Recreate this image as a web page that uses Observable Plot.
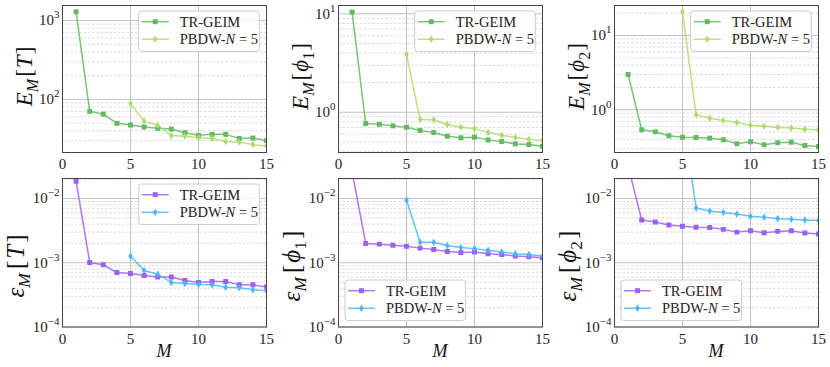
<!DOCTYPE html>
<html><head><meta charset="utf-8">
<script src="https://cdn.jsdelivr.net/npm/d3@7"></script>
<script src="https://cdn.jsdelivr.net/npm/@observablehq/plot@0.6"></script>
<style>
body{margin:0;background:#fff;}
#chart{position:relative;width:830px;height:367px;overflow:hidden;font-family:"Liberation Serif",serif;}
#chart svg{position:absolute;overflow:visible;}
</style></head><body><div id="chart"></div>
<script>
// ---- data ----
const M_TR = [1,2,3,4,5,6,7,8,9,10,11,12,13,14,15];
const M_PB = [5,6,7,8,9,10,11,12,13,14,15];
const xTicks = [0,5,10,15];
const seriesNames = ["TR-GEIM", "PBDW-N = 5"];

const E_T_TR  = [1290,70.5,65,49.7,47.3,44.6,43,42,37.8,35,36,36,32,32.3,30];
const E_T_PB  = [88,53,47,34.7,34,32.7,32,29.2,28.6,26.7,25.6];
const E_P1_TR = [10.4,0.767,0.755,0.727,0.705,0.652,0.622,0.57,0.55,0.557,0.524,0.504,0.477,0.47,0.451];
const E_P1_PB = [3.86,0.843,0.838,0.75,0.705,0.678,0.626,0.585,0.553,0.532,0.516];
const E_P2_TR = [2.99,0.538,0.506,0.447,0.428,0.424,0.415,0.395,0.349,0.371,0.338,0.36,0.366,0.331,0.321];
const E_P2_PB = [21,0.857,0.771,0.718,0.675,0.621,0.602,0.578,0.567,0.548,0.538];
const e_T_TR  = [0.0186,1.01e-3,0.93e-3,0.705e-3,0.68e-3,0.634e-3,0.6e-3,0.6e-3,0.53e-3,0.494e-3,0.51e-3,0.51e-3,0.453e-3,0.453e-3,0.42e-3];
const e_T_PB  = [1.27e-3,0.76e-3,0.664e-3,0.494e-3,0.477e-3,0.46e-3,0.453e-3,0.417e-3,0.41e-3,0.38e-3,0.365e-3];
const e_P1_TR = [0.026,2.0e-3,1.95e-3,1.88e-3,1.8e-3,1.69e-3,1.61e-3,1.5e-3,1.45e-3,1.47e-3,1.38e-3,1.34e-3,1.27e-3,1.24e-3,1.2e-3];
const e_P1_PB = [9.5e-3,2.08e-3,2.08e-3,1.85e-3,1.73e-3,1.66e-3,1.56e-3,1.47e-3,1.38e-3,1.34e-3,1.27e-3];
const e_P2_TR = [0.032,4.64e-3,4.3e-3,3.87e-3,3.69e-3,3.56e-3,3.53e-3,3.31e-3,3.0e-3,3.16e-3,2.94e-3,3.08e-3,3.16e-3,2.9e-3,2.8e-3];
const e_P2_PB = [0.2,7.13e-3,6.4e-3,6.04e-3,5.74e-3,5.28e-3,5.1e-3,4.87e-3,4.77e-3,4.64e-3,4.53e-3];

const GREEN = ["#62ba62", "#b0db6c"];
const PURPLE = ["#9d60f4", "#4cb6f6"];

const thinDiamond = {
  draw(ctx, size) {
    const r = Math.sqrt(size / Math.PI);
    const h = r * 1.35, w = r * 0.8;
    ctx.moveTo(0, -h); ctx.lineTo(w, 0); ctx.lineTo(0, h); ctx.lineTo(-w, 0); ctx.closePath();
  }
};

function logTicks(domain) {
  const [lo, hi] = domain, major = [], minor = [];
  for (let k = Math.floor(Math.log10(lo)); k <= Math.ceil(Math.log10(hi)); k++) {
    for (let m = 1; m < 10; m++) {
      const v = m * Math.pow(10, k);
      if (v >= lo * 0.9999 && v <= hi * 1.0001) (m === 1 ? major : minor).push(v);
    }
  }
  return {major, minor};
}

const panels = [
  {col:0,row:0,dom:[21.2,1550],tr:E_T_TR,pb:E_T_PB,c:GREEN,lab:"E",arg:"T",leg:"tr"},
  {col:1,row:0,dom:[0.39,12.15],tr:E_P1_TR,pb:E_P1_PB,c:GREEN,lab:"E",arg:"phi",sub:"1",leg:"tr"},
  {col:2,row:0,dom:[0.266,25.4],tr:E_P2_TR,pb:E_P2_PB,c:GREEN,lab:"E",arg:"phi",sub:"2",leg:"tr"},
  {col:0,row:1,dom:[1e-4,0.0205],tr:e_T_TR,pb:e_T_PB,c:PURPLE,lab:"ε",arg:"T",leg:"tr"},
  {col:1,row:1,dom:[1e-4,0.0205],tr:e_P1_TR,pb:e_P1_PB,c:PURPLE,lab:"ε",arg:"phi",sub:"1",leg:"bl"},
  {col:2,row:1,dom:[1e-4,0.0205],tr:e_P2_TR,pb:e_P2_PB,c:PURPLE,lab:"ε",arg:"phi",sub:"2",leg:"bl"},
];

const chart = document.getElementById("chart");
const FW = 204, ML = 62, MT = 5;

for (const p of panels) {
  const top = p.row === 0 ? 0 : 173;
  const FH = p.row === 0 ? 147 : 148.5;
  const H = p.row === 0 ? 172 : 194;
  const {major, minor} = logTicks(p.dom);
  const trData = M_TR.map((m, i) => ({m, v: p.tr[i]}));
  const pbData = M_PB.map((m, i) => ({m, v: p.pb[i]}));
  const svg = Plot.plot({
    width: ML + FW + 10, height: H,
    marginLeft: ML, marginRight: 10, marginTop: MT, marginBottom: H - MT - FH,
    style: {fontFamily: '"Liberation Serif", serif', fontSize: "15px", color: "#222", background: "transparent"},
    x: {domain: [0, 15]},
    y: {type: "log", domain: p.dom},
    marks: [
      Plot.gridY(minor, {stroke: "#cfcfcf", strokeOpacity: 1, strokeWidth: 0.8, strokeDasharray: "2.5,1.8"}),
      Plot.gridY(major, {stroke: "#c2c2c2", strokeOpacity: 1, strokeWidth: 1}),
      Plot.gridX([5, 10], {stroke: "#c2c2c2", strokeOpacity: 1, strokeWidth: 1}),
      Plot.line(trData, {x: "m", y: "v", stroke: p.c[0], strokeWidth: 1.5, strokeOpacity: 0.85, clip: true}),
      Plot.dot(trData, {x: "m", y: "v", symbol: "square", r: 2.8, fill: p.c[0], clip: true}),
      Plot.line(pbData, {x: "m", y: "v", stroke: p.c[1], strokeWidth: 1.5, strokeOpacity: 0.85, clip: true}),
      Plot.dot(pbData, {x: "m", y: "v", symbol: thinDiamond, r: 2.8, fill: p.c[1], clip: true}),
      Plot.axisX(xTicks, {tickSize: 0, tickPadding: 6, fontSize: 15, label: null}),
      Plot.axisY(major, {tickSize: 0, tickPadding: 3, fontSize: 15, label: null,
        tickFormat: d => "10^" + String(Math.round(Math.log10(d))).replace("-", "\u2212")}),
      Plot.frame({stroke: "#444", strokeWidth: 1})
    ]
  });
  svg.style.left = (p.col * 276) + "px";
  svg.style.top = top + "px";
  chart.appendChild(svg);
  const s = d3.select(svg);

  // superscript exponents on y tick labels
  s.selectAll('g[aria-label="y-axis tick label"] text').each(function() {
    const t = this.textContent.split("^");
    this.textContent = "";
    const el = d3.select(this);
    el.append("tspan").text(t[0]);
    el.append("tspan").attr("dy", "-7px").attr("font-size", "11px").text(t[1]);
  });

  // y label (centered by measuring its box)
  const fs = p.row === 0 ? 23 : 25;
  const gap = p.row === 0 ? 2 : 4;
  const lx = p.row === 0 ? 32 : 24, cy = p.row === 0 ? 77 : 93;
  const yl = s.append("text")
    .attr("transform", `translate(${lx},0) rotate(-90)`)
    .attr("text-anchor", "start").attr("font-size", fs).attr("font-weight", 400).attr("fill", "#111");
  yl.append("tspan").attr("font-style", "italic").text(p.lab);
  yl.append("tspan").attr("font-style", "italic").attr("font-size", fs * 0.7).attr("dy", fs * 0.25).text("M");
  yl.append("tspan").attr("dy", -fs * 0.25).attr("dx", gap).text("[");
  if (p.arg === "T") {
    yl.append("tspan").attr("font-style", "italic").attr("dx", gap / 2).text("T");
    yl.append("tspan").attr("dx", gap / 2).text("]");
  } else {
    yl.append("tspan").attr("font-style", "italic").attr("dx", gap / 2).text("\u03d5");
    yl.append("tspan").attr("font-size", fs * 0.7).attr("dy", fs * 0.25).text(p.sub);
    yl.append("tspan").attr("dy", -fs * 0.25).attr("dx", gap / 2).text("]");
  }
  const bb = yl.node().getBBox();
  yl.attr("transform", `translate(${lx},${cy + bb.x + bb.width / 2}) rotate(-90)`);

  // x label
  if (p.row === 1) {
    s.append("text").attr("x", ML + FW / 2).attr("y", 184).attr("text-anchor", "middle")
      .attr("font-size", 18).attr("font-style", "italic").attr("font-weight", 400).attr("fill", "#111").text("M");
  }

  // legend
  const bw = 120.6, bh = 40.5;
  const bx = p.leg === "tr" ? ML + FW - 6.7 - bw : ML + 7;
  const by = p.leg === "tr" ? MT + 6 : MT + FH - 6 - bh;
  const g = s.append("g").attr("transform", `translate(${bx},${by})`).attr("text-anchor", "start");
  g.append("rect").attr("width", bw).attr("height", bh).attr("rx", 3)
    .attr("fill", "#fff").attr("fill-opacity", 0.85).attr("stroke", "#cccccc").attr("stroke-width", 1);
  seriesNames.forEach((name, i) => {
    const yy = 10.7 + i * 17.6;
    g.append("line").attr("x1", 3).attr("x2", 30).attr("y1", yy).attr("y2", yy)
      .attr("stroke", p.c[i]).attr("stroke-width", 1.5).attr("stroke-opacity", 0.85);
    const sym = d3.symbol().type(i === 0 ? d3.symbolSquare : thinDiamond).size(Math.PI * 2.8 * 2.8);
    g.append("path").attr("d", sym()).attr("transform", `translate(16.5,${yy})`).attr("fill", p.c[i]);
    const tx = g.append("text").attr("x", 41).attr("y", yy).attr("dy", "0.35em")
      .attr("text-anchor", "start").attr("font-size", 14.5).attr("font-weight", 400)
      .attr("stroke", "none").attr("fill", "#222");
    if (i === 0) tx.text(name);
    else {
      tx.append("tspan").text("PBDW-");
      tx.append("tspan").attr("font-style", "italic").text("N");
      tx.append("tspan").text(" = 5");
    }
  });
}
</script></body></html>
